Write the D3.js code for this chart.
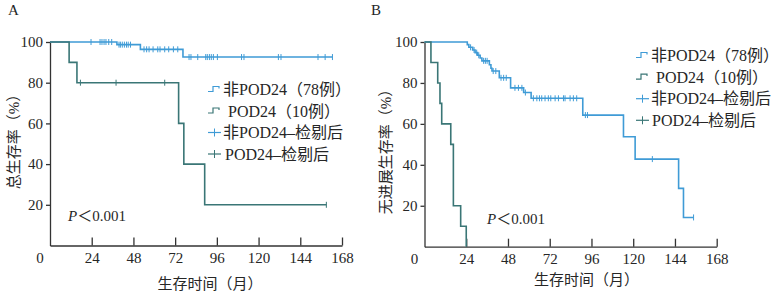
<!DOCTYPE html>
<html><head><meta charset="utf-8">
<script src="https://cdn.jsdelivr.net/npm/d3@7"></script>
<style>
body{margin:0;background:#fff;}
text{font-family:"Liberation Serif","Times New Roman","Noto Sans CJK SC",serif;fill:#262626;}
.halt{font-feature-settings:"halt" 1;}
</style></head>
<body><svg id="c" width="774" height="296"></svg>
<script>
// ---- Data ----
const xTicks = [24, 48, 72, 96, 120, 144, 168];
const yTicks = [20, 40, 60, 80, 100];
const legendLabels = ["非POD24（78例）", "POD24（10例）", "非POD24–检剔后", "POD24–检剔后"];

// Panel A: overall survival
const osNonTimes = [0, 38.5, 52, 76.5];
const osNonSurv  = [100, 98.7, 96.4, 92.6];
const osNonEnd = 162.5;
const osNonCensor = [23.6, 28.8, 29.9, 31.1, 32.2, 33.8, 35.5, 39.7, 40.5, 41.6, 42.8, 44, 45, 46.3,
  54.1, 55.6, 57, 59.3, 62, 63.3, 66, 68.3, 71, 73.5, 80, 81.1, 85, 89.6, 90.5, 91.7, 92.8, 94, 96.3,
  110.2, 111.6, 131.4, 132.9, 154.2, 158.3, 162.5];
const osPodTimes = [0, 11, 15.5, 74, 77, 89];
const osPodSurv  = [100, 90, 80, 60, 40, 20];
const osPodEnd = 159;
const osPodCensor = [17.5, 38, 66, 159];

// Panel B: progression-free survival
const pfsNonTimes = [0, 24.6, 25.5, 27.7, 29.1, 30.5, 32, 33, 37.3, 38.2, 38.8, 43, 49.5, 57, 61.3, 91, 114.4, 121.1, 146.1, 148.9];
const pfsNonSurv  = [100, 98.7, 97.4, 96.1, 94.8, 93.5, 92.2, 90.8, 88.9, 87.2, 85.8, 82.5, 77.6, 75.3, 72.5, 64.3, 53.7, 42.8, 28.5, 14.3];
const pfsNonEnd = 154.7;
const pfsNonCensor = [26.5, 28.5, 30, 31.2, 34, 35, 36, 39.5, 41, 44, 45.5, 47, 52, 54, 56, 58,
  62.6, 64.6, 66.1, 67.4, 69.3, 71.2, 72.6, 75.1, 77, 79.9, 80.8, 83.7, 85.6, 87.5, 92.5, 93.7, 131, 154.7];
const pfsPodTimes = [0, 3.7, 7.6, 8.9, 9.9, 15.1, 16.6, 20.8, 24];
const pfsPodSurv  = [100, 90, 80, 70, 60, 50, 20, 10, 0];
const pfsPodEnd = 24;
const pfsPodCensor = [];

const BLUE = "#3f9bd6", TEAL = "#3a7676", AX = "#333";
const svg = d3.select("#c");

function stepAt(times, surv, t){ let s = surv[0]; for(let i=0;i<times.length;i++){ if(times[i] <= t) s = surv[i]; } return s; }

function panel(cfg){
  const x = d3.scaleLinear().domain([0,168]).range(cfg.xr);
  const y = d3.scaleLinear().domain([0,100]).range(cfg.yr);
  const g = svg.append("g");
  // axes
  const ya = g.append("g").attr("transform",`translate(${cfg.xr[0]},0)`)
    .call(d3.axisLeft(y).tickValues(yTicks).tickSize(4).tickSizeOuter(0).tickPadding(3));
  const xa = g.append("g").attr("transform",`translate(0,${cfg.yr[0]})`)
    .call(d3.axisBottom(x).tickValues(xTicks).tickSize(-8).tickSizeOuter(0));
  [ya, xa].forEach(a=>{ a.selectAll("path,line").attr("stroke",AX).attr("stroke-width",1.3);
    a.selectAll("text").style("font-size","15px").attr("fill","#262626"); });
  xa.selectAll("text").attr("y",12).attr("dy","0.35em");
  g.append("text").attr("x",x(0)-10).attr("y",cfg.yr[0]+12).attr("dy","0.35em").attr("text-anchor","middle").style("font-size","15px").text("0");

  // curves
  const line = d3.line().x(d=>x(d[0])).y(d=>y(d[1])).curve(d3.curveStepAfter);
  cfg.series.forEach(s=>{
    const pts = s.t.map((t,i)=>[t,s.s[i]]);
    pts.push([s.end, s.s[s.s.length-1]]);
    g.append("path").datum(pts).attr("d",line).attr("fill","none").attr("stroke",s.c).attr("stroke-width",1.6);
    g.selectAll(null).data(s.cen).enter().append("line")
      .attr("x1",d=>x(d)).attr("x2",d=>x(d))
      .attr("y1",d=>y(stepAt(s.t,s.s,d))-3).attr("y2",d=>y(stepAt(s.t,s.s,d))+3)
      .attr("stroke",s.c).attr("stroke-width",1);
  });

  // legend
  const lg = g.append("g");
  legendLabels.forEach((lab,i)=>{
    const yy = cfg.leg[1] + i*cfg.legStep, x0 = cfg.leg[0];
    const col = (i%2===0) ? BLUE : TEAL;
    if(i<2){
      lg.append("path").attr("d",`M${x0},${yy+2}H${x0+5}V${yy-3}H${x0+11}V${yy-1}`).attr("fill","none").attr("stroke",col).attr("stroke-width",1.2);
    } else {
      lg.append("line").attr("x1",x0).attr("x2",x0+13).attr("y1",yy).attr("y2",yy).attr("stroke",col).attr("stroke-width",1.2);
      lg.append("line").attr("x1",x0+6.5).attr("x2",x0+6.5).attr("y1",yy-4).attr("y2",yy+4).attr("stroke",col).attr("stroke-width",1);
    }
    const t = lg.append("text").attr("x",x0+cfg.legOff[i]).attr("y",yy).attr("dy","0.35em").style("font-size","16px");
    if (lab.endsWith("）")) {
      t.append("tspan").text(lab.slice(0,-1));
      t.append("tspan").attr("class","halt").text("）");
    } else t.text(lab);
  });

  // P value
  const pt = g.append("text").attr("x",cfg.p[0]).attr("y",cfg.p[1]).attr("dy","0.35em").style("font-size","15px");
  pt.append("tspan").style("font-style","italic").text("P");
  pt.append("tspan").text("＜0.001");

  // titles
  g.append("text").attr("x",cfg.xt[0]).attr("y",cfg.xt[1]).attr("dy","0.35em").attr("text-anchor","middle").style("font-size","15px").text("生存时间（月）");
  g.append("text").attr("transform",`translate(${cfg.yt[0]},${cfg.yt[1]}) rotate(-90)`).attr("dy","0.35em").attr("text-anchor","middle").style("font-size","15px").text(cfg.ytitle);
  g.append("text").attr("x",cfg.lab[0]).attr("y",cfg.lab[1]).attr("dy","0.35em").style("font-size","15px").text(cfg.label);
}

panel({xr:[50,342], yr:[245.5,42], leg:[208,89.5], legStep:21.5, legOff:[15,20,15,17], p:[68,216], xt:[210,284], yt:[14,138], ytitle:"总生存率（%）", lab:[8,10], label:"A",
  series:[{t:osNonTimes,s:osNonSurv,end:osNonEnd,cen:osNonCensor,c:BLUE},{t:osPodTimes,s:osPodSurv,end:osPodEnd,cen:osPodCensor,c:TEAL}]});
panel({xr:[424.5,716.7], yr:[246.7,42], leg:[636,55.5], legStep:21.6, legOff:[15,20,15,16], p:[487,219], xt:[586.5,280], yt:[386,148], ytitle:"无进展生存率（%）", lab:[371,10], label:"B",
  series:[{t:pfsNonTimes,s:pfsNonSurv,end:pfsNonEnd,cen:pfsNonCensor,c:BLUE},{t:pfsPodTimes,s:pfsPodSurv,end:pfsPodEnd,cen:pfsPodCensor,c:TEAL}]});
</script></body></html>
